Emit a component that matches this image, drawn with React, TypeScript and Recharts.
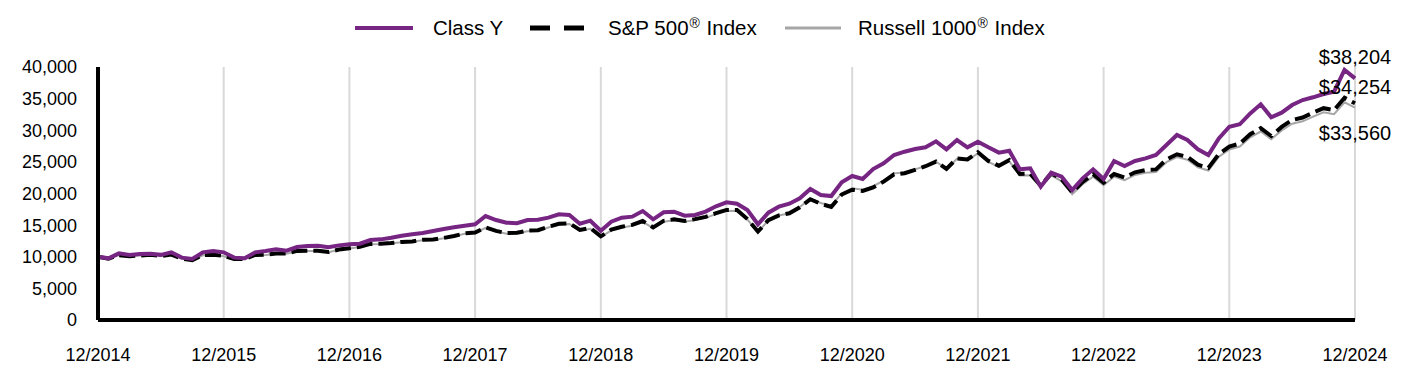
import React from 'react';
import { LineChart, Line, XAxis, YAxis, CartesianGrid } from 'recharts';

const yearLabels = ['12/2014', '12/2015', '12/2016', '12/2017', '12/2018', '12/2019', '12/2020', '12/2021', '12/2022', '12/2023', '12/2024'];
const xTicks = [0, 12, 24, 36, 48, 60, 72, 84, 96, 108, 120];
const yTicks = [0, 5000, 10000, 15000, 20000, 25000, 30000, 35000, 40000];

const classY = [
  10000, 9750, 10540, 10280, 10420, 10490, 10300, 10700, 9860, 9640, 10700, 10910, 10700,
  9860, 9750, 10700, 10910, 11170, 10960, 11540, 11700, 11750, 11490, 11800, 11960,
  12070, 12650, 12750, 13000, 13330, 13550, 13750, 14070, 14400, 14650, 14910, 15130,
  16440, 15810, 15390, 15300, 15810, 15860, 16180, 16710, 16600, 15230, 15700, 14120,
  15540, 16180, 16340, 17230, 15920, 17030, 17130, 16500, 16600, 17130, 17970, 18600,
  18390, 17390, 15130, 16970, 17920, 18390, 19240, 20710, 19760, 19600, 21770, 22770,
  22290, 23870, 24770, 26090, 26610, 27040, 27300, 28250, 26990, 28460, 27300, 28190,
  27300, 26460, 26770, 23820, 23980, 21080, 23290, 22660, 20550, 22400, 23820, 22290,
  25140, 24350, 25140, 25560, 26090, 27670, 29250, 28460, 26990, 26090, 28720, 30560,
  30940, 32670, 34100, 32050, 32780, 33990, 34780, 35210, 35730, 36100, 39530, 38204,
];

const sp500 = [
  10000, 9700, 10258, 10096, 10193, 10324, 10124, 10337, 9714, 9474, 10274, 10305, 10142,
  9639, 9626, 10279, 10319, 10505, 10532, 10921, 10936, 10938, 10739, 11136, 11357,
  11573, 12032, 12046, 12170, 12342, 12418, 12674, 12713, 12975, 13277, 13685, 13837,
  14630, 14090, 13732, 13784, 14116, 14204, 14732, 15212, 15299, 14253, 14544, 13230,
  14290, 14749, 15035, 15644, 14651, 15684, 15910, 15659, 15952, 16298, 16890, 17400,
  17393, 15962, 13991, 15785, 16536, 16865, 17816, 19097, 18371, 17882, 19840, 20602,
  20394, 20957, 21875, 23043, 23204, 23745, 24310, 25049, 23884, 25558, 25382, 26519,
  25148, 24396, 25301, 23095, 23137, 21228, 23185, 22239, 20191, 21827, 23047, 21720,
  23084, 22521, 23347, 23711, 23813, 25387, 26202, 25785, 24555, 24040, 26235, 27426,
  27887, 29376, 30322, 29085, 30528, 31624, 32010, 32788, 33490, 33185, 35133, 34254,
];

const russell = [
  10000, 9700, 10250, 10085, 10178, 10304, 10102, 10310, 9685, 9442, 10236, 10263, 10092,
  9600, 9588, 10238, 10278, 10463, 10490, 10878, 10893, 10895, 10697, 11094, 11308,
  11529, 11986, 12000, 12122, 12293, 12368, 12622, 12660, 12920, 13220, 13622, 13761,
  14554, 14012, 13651, 13699, 14023, 14106, 14624, 15096, 15177, 14135, 14417, 13103,
  14161, 14616, 14899, 15503, 14518, 15542, 15766, 15517, 15808, 16150, 16737, 17221,
  17259, 15868, 13934, 15749, 16528, 16887, 17869, 19189, 18492, 18032, 20042, 20831,
  20608, 21146, 22041, 23184, 23311, 23819, 24349, 25052, 23853, 25486, 25273, 26341,
  24977, 24203, 25076, 22866, 22885, 20973, 22884, 21928, 19886, 21476, 22653, 21302,
  22668, 22116, 22934, 23294, 23399, 24948, 25754, 25347, 24143, 23639, 25802, 26953,
  27421, 28874, 29794, 28570, 29975, 31042, 31411, 32162, 32840, 32531, 34427, 33560,
];

const data = classY.map((v, i) => ({ m: i, classY: v, sp500: sp500[i], russell: russell[i] }));
const LAST = data.length - 1;

const FONT = '"Liberation Sans", Arial, Helvetica, sans-serif';
const PURPLE = '#772583';
const GRAY = '#a6a6a6';

function makeEndLabel(offset: number) {
  return (props: any) => {
    const { x, y, index, value } = props;
    if (index !== LAST) return <g />;
    return (
      <text x={x} y={y + offset} dy="0.35em" textAnchor="middle" fontSize={20} fill="#000" fontFamily={FONT}>
        {'$' + Number(value).toLocaleString('en-US')}
      </text>
    );
  };
}

const Sup = () => (
  <span style={{ fontSize: 14, position: 'relative', top: -7, margin: '0 1px' }}>®</span>
);

function LegendOverlay() {
  const item: React.CSSProperties = {
    position: 'absolute',
    top: 8,
    height: 24,
    lineHeight: '24px',
    fontSize: 20.5,
    fontFamily: FONT,
    color: '#000',
    whiteSpace: 'nowrap',
  };
  return (
    <>
      <svg style={{ position: 'absolute', left: 347, top: 10 }} width={58} height={20}>
        <line x1={0} y1={10} x2={58} y2={10} stroke={PURPLE} strokeWidth={4} />
      </svg>
      <div style={{ ...item, left: 425 }}>Class Y</div>
      <svg style={{ position: 'absolute', left: 522, top: 10 }} width={56} height={20}>
        <line x1={0} y1={10} x2={56} y2={10} stroke="#000" strokeWidth={5} strokeDasharray="20 14" />
      </svg>
      <div style={{ ...item, left: 600 }}>S&amp;P 500<Sup /> Index</div>
      <svg style={{ position: 'absolute', left: 777, top: 10 }} width={56} height={20}>
        <line x1={0} y1={10} x2={56} y2={10} stroke={GRAY} strokeWidth={3} />
      </svg>
      <div style={{ ...item, left: 850 }}>Russell 1000<Sup /> Index</div>
    </>
  );
}

export default function App() {
  return (
    <div style={{ position: 'relative', width: 1400, height: 376, background: '#fff' }}>
      <LineChart width={1400} height={376} data={data} margin={{ top: 59, right: 53, left: 0, bottom: 14 }}>
        <CartesianGrid vertical={true} horizontal={false} stroke="#d9d9d9" strokeWidth={2} />
        <XAxis
          dataKey="m"
          type="number"
          domain={[0, 120]}
          ticks={xTicks}
          interval={0}
          height={50}
          tickFormatter={(v: number) => yearLabels[Math.round(v / 12)]}
          tickLine={false}
          tickSize={0}
          tickMargin={28}
          axisLine={{ stroke: '#000', strokeWidth: 4 }}
          tick={{ fontSize: 18, fill: '#000', fontFamily: FONT }}
        />
        <YAxis
          type="number"
          domain={[0, 40000]}
          ticks={yTicks}
          interval={0}
          width={90}
          tickFormatter={(v: number) => v.toLocaleString('en-US')}
          tickLine={false}
          tickSize={0}
          tickMargin={21}
          axisLine={{ stroke: '#000', strokeWidth: 4 }}
          tick={{ fontSize: 18, fill: '#000', fontFamily: FONT }}
        />
        <Line
          type="linear"
          dataKey="russell"
          stroke={GRAY}
          strokeWidth={2}
          dot={false}
          isAnimationActive={false}
          label={makeEndLabel(25)}
        />
        <Line
          type="linear"
          dataKey="sp500"
          stroke="#000"
          strokeWidth={4}
          strokeDasharray="16 6"
          dot={false}
          isAnimationActive={false}
          label={makeEndLabel(-16)}
        />
        <Line
          type="linear"
          dataKey="classY"
          stroke={PURPLE}
          strokeWidth={4}
          dot={false}
          isAnimationActive={false}
          label={makeEndLabel(-21)}
        />
      </LineChart>
      <LegendOverlay />
    </div>
  );
}
